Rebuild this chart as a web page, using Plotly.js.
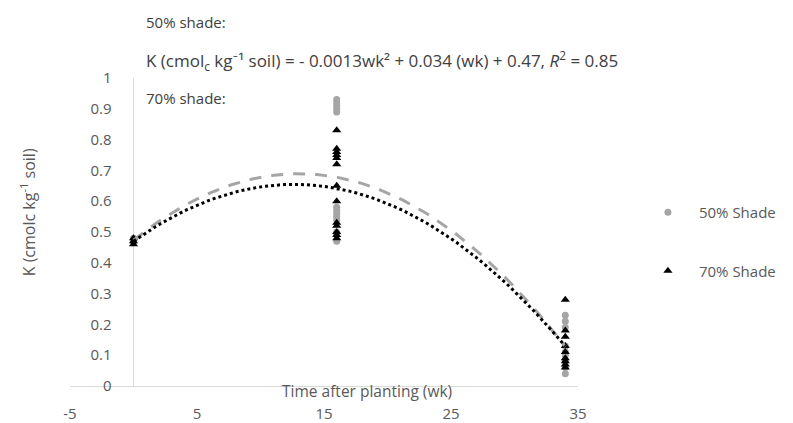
<!DOCTYPE html>
<html>
<head>
<meta charset="utf-8">
<script src="https://cdn.plot.ly/plotly-3.0.1.min.js"></script>
<style>html,body{margin:0;padding:0;background:#fff;}#chart{width:793px;height:423px;}</style>
</head>
<body>
<div id="chart"></div>
<script>
// Weeks after planting at which samples were taken
const weeks = [0, 16, 34];

// 50% shade: K (cmolc kg-1 soil) at each sampling week
const shade50_wk0  = [0.47, 0.48, 0.47];
const shade50_wk16 = [0.93, 0.92, 0.91, 0.90, 0.89, 0.58, 0.57, 0.56, 0.55, 0.54, 0.50, 0.49, 0.47];
const shade50_wk34 = [0.23, 0.21, 0.19, 0.13, 0.11, 0.10, 0.08, 0.06, 0.04];

// 70% shade
const shade70_wk0  = [0.47, 0.48, 0.46];
const shade70_wk16 = [0.83, 0.77, 0.76, 0.75, 0.74, 0.72, 0.65, 0.60, 0.53, 0.52, 0.50, 0.49, 0.48];
const shade70_wk34 = [0.28, 0.18, 0.16, 0.13, 0.11, 0.09, 0.08, 0.07, 0.06];

const seriesNames = ['50% Shade', '70% Shade'];
const xTickVals = [-5, 5, 15, 25, 35];
const yTickVals = [0, 0.1, 0.2, 0.3, 0.4, 0.5, 0.6, 0.7, 0.8, 0.9, 1];

function flatten(groups) {
  const x = [], y = [];
  groups.forEach((g, i) => g.forEach(v => { x.push(weeks[i]); y.push(v); }));
  return {x, y};
}
const s50 = flatten([shade50_wk0, shade50_wk16, shade50_wk34]);
const s70 = flatten([shade70_wk0, shade70_wk16, shade70_wk34]);

// Least-squares quadratic fit (like an Excel polynomial trendline of order 2)
function polyfit2(xs, ys) {
  let S = [0,0,0,0,0], T = [0,0,0];
  for (let i = 0; i < xs.length; i++) {
    let p = 1;
    for (let k = 0; k < 5; k++) { S[k] += p; if (k < 3) T[k] += p * ys[i]; p *= xs[i]; }
  }
  const A = [[S[0],S[1],S[2],T[0]],[S[1],S[2],S[3],T[1]],[S[2],S[3],S[4],T[2]]];
  for (let c = 0; c < 3; c++) {
    for (let r = c + 1; r < 3; r++) {
      const f = A[r][c] / A[c][c];
      for (let k = c; k < 4; k++) A[r][k] -= f * A[c][k];
    }
  }
  const coef = [0,0,0];
  for (let r = 2; r >= 0; r--) {
    let s = A[r][3];
    for (let k = r + 1; k < 3; k++) s -= A[r][k] * coef[k];
    coef[r] = s / A[r][r];
  }
  return coef; // c0 + c1 x + c2 x^2
}
function trend(series) {
  const c = polyfit2(series.x, series.y);
  const xmin = Math.min(...series.x), xmax = Math.max(...series.x);
  const tx = [], ty = [];
  const n = 80;
  for (let i = 0; i <= n; i++) {
    const x = xmin + (xmax - xmin) * i / n;
    tx.push(x); ty.push(c[0] + c[1] * x + c[2] * x * x);
  }
  return {x: tx, y: ty};
}
const t50 = trend(s50), t70 = trend(s70);

const FONT = '"Open Sans", Lato, sans-serif';
const grey = '#a5a5a5';

const traces = [
  {x: s50.x, y: s50.y, type: 'scatter', mode: 'markers', name: seriesNames[0], legendgroup: 'a',
   marker: {symbol: 'circle', size: 7, color: grey}},
  {x: s70.x, y: s70.y, type: 'scatter', mode: 'markers', name: seriesNames[1], legendgroup: 'b',
   marker: {symbol: 'triangle-up', size: 8, color: '#000000'}},
  {x: t50.x, y: t50.y, type: 'scatter', mode: 'lines', showlegend: false, hoverinfo: 'skip',
   line: {color: grey, width: 3, dash: '12px,10px'}},
  {x: t70.x, y: t70.y, type: 'scatter', mode: 'lines', showlegend: false, hoverinfo: 'skip',
   line: {color: '#000000', width: 3, dash: 'dot'}}
];

const layout = {
  width: 793, height: 423,
  margin: {l: 70, r: 210, t: 78, b: 37, pad: 0},
  paper_bgcolor: '#ffffff', plot_bgcolor: '#ffffff',
  font: {family: FONT, size: 15, color: '#595959'},
  showlegend: true,
  legend: {x: 1.116, y: 0.617, xanchor: 'left', yanchor: 'top', traceorder: 'grouped',
           itemwidth: 52, tracegroupgap: 36, font: {size: 15, color: '#595959'}, bgcolor: 'rgba(0,0,0,0)'},
  xaxis: {range: [-5, 35], tickvals: xTickVals, ticktext: xTickVals.map(String),
          showgrid: false, zeroline: true, zerolinecolor: '#d9d9d9', zerolinewidth: 1,
          showline: true, linecolor: '#d9d9d9', linewidth: 1,
          ticks: 'outside', ticklen: 14, tickcolor: 'rgba(0,0,0,0)',
          tickfont: {size: 15, color: '#595959'}},
  yaxis: {range: [0, 1], tickvals: yTickVals, ticktext: yTickVals.map(String),
          anchor: 'free', position: 0.125,
          showgrid: false, zeroline: false, showline: false,
          ticks: 'outside', ticklen: 19, tickcolor: 'rgba(0,0,0,0)',
          tickfont: {size: 15, color: '#595959'}},
  annotations: [
    {xref: 'paper', yref: 'paper', x: 0.146, y: 1.182, xanchor: 'left', yanchor: 'middle', showarrow: false,
     text: '50% shade:', font: {size: 15, color: '#404040'}},
    {xref: 'paper', yref: 'paper', x: 0.146, y: 1.058, xanchor: 'left', yanchor: 'middle', showarrow: false,
     text: 'K (cmol<sub>c</sub> kg⁻¹ soil) = - 0.0013wk² + 0.034 (wk) + 0.47, <i>R</i><sup>2</sup> = 0.85',
     font: {size: 17, color: '#404040'}},
    {xref: 'paper', yref: 'paper', x: 0.146, y: 0.935, xanchor: 'left', yanchor: 'middle', showarrow: false,
     text: '70% shade:', font: {size: 15, color: '#404040'}},
    {xref: 'paper', yref: 'paper', x: 0.585, y: -0.015, xanchor: 'center', yanchor: 'middle', showarrow: false,
     text: 'Time after planting (wk)', font: {size: 15.5, color: '#595959'}},
    {xref: 'paper', yref: 'paper', x: -0.082, y: 0.565, xanchor: 'center', yanchor: 'middle', showarrow: false,
     textangle: -90, text: 'K (cmolc kg<sup>-1</sup> soil)', font: {size: 16, color: '#595959'}}
  ],
  shapes: [
    {type: 'line', xref: 'x', yref: 'paper', x0: 0, x1: 0, y0: 0, y1: 1, line: {color: '#d9d9d9', width: 1}, layer: 'below'}
  ]
};

Plotly.newPlot('chart', traces, layout, {staticPlot: true, displayModeBar: false});
</script>
</body>
</html>
